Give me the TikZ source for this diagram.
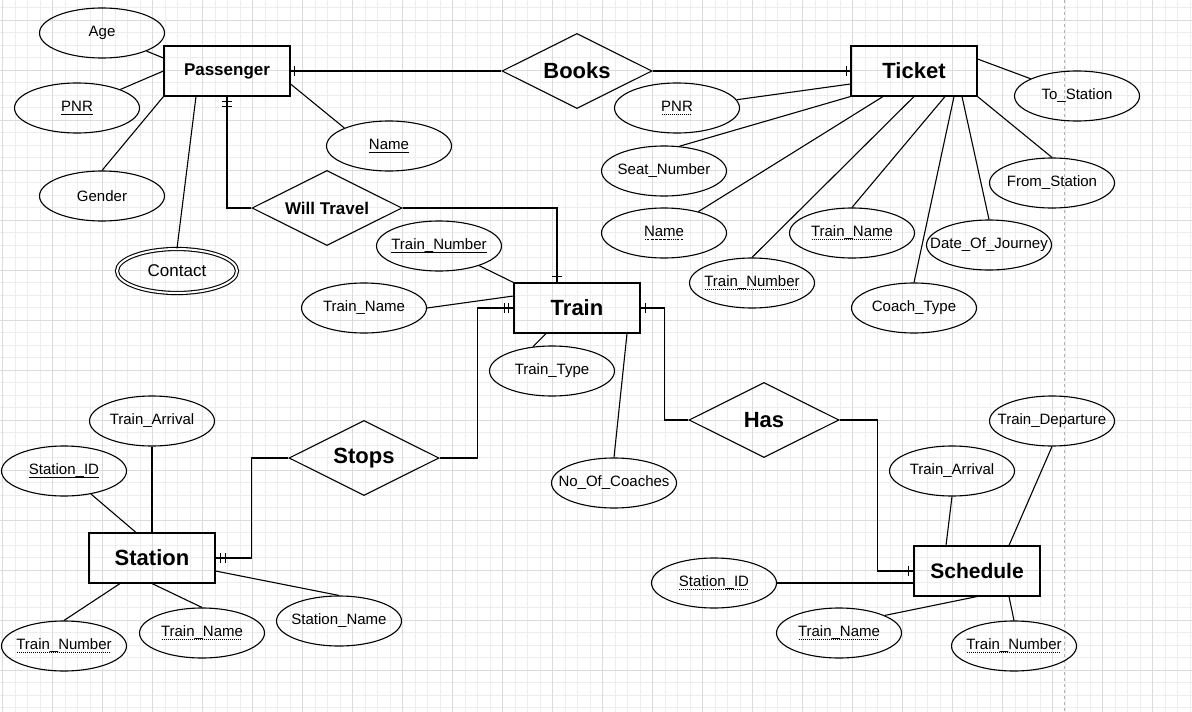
\documentclass[tikz,border=0pt]{standalone}
\usepackage{fontspec}
\setmainfont{Liberation Sans}
\usetikzlibrary{shapes.geometric}
\newcommand\keyul[1]{\setbox0\hbox{#1}\rlap{\lower2.5pt\hbox{\rule{\wd0}{0.8pt}}}\box0}
\newcommand\dotul[1]{\setbox0\hbox{#1}\rlap{\lower2.5pt\hbox to\wd0{\leaders\hbox to 2pt{\hss\rule{1pt}{0.8pt}\hss}\hfill}}\box0}

\begin{document}
\begin{tikzpicture}[x=1pt, y=-1pt, line width=1.1pt,
		entity/.style={draw, rectangle, minimum width=126pt, minimum height=50pt, inner sep=0pt, font=\fontsize{22}{26}\selectfont\bfseries},
		relation/.style={draw, diamond, aspect=2, minimum width=150pt, minimum height=75pt, inner sep=0pt, font=\fontsize{22}{26}\selectfont\bfseries},
		attr/.style={draw, ellipse, minimum width=125pt, minimum height=50pt, inner xsep=-20pt, inner ysep=0pt, font=\fontsize{15}{18}\selectfont},
		minorgrid/.style={line width=0.6pt, draw=black!7},
		majorgrid/.style={line width=0.8pt, draw=black!14}]
		\useasboundingbox (0,0) rectangle (1192,712);
		\fill[white] (0,0) rectangle (1192,712);
		% grid
		\foreach \x in {2.7,15.2,...,1192} \draw[minorgrid] (\x,0) -- (\x,712);
		\foreach \y in {7.5,20,...,712} \draw[minorgrid] (0,\y) -- (1192,\y);
		\foreach \x in {2.7,52.7,...,1192} \draw[majorgrid] (\x,0) -- (\x,712);
		\foreach \y in {20,70,...,712} \draw[majorgrid] (0,\y) -- (1192,\y);
		\draw[black!30, line width=0.8pt, dash pattern=on 3pt off 3pt] (1064.3,0) -- (1064.3,712);

		% entities
		\node[entity, font=\fontsize{17}{20}\selectfont\bfseries] (passenger) at (227,71) {Passenger};
		\node[entity] (ticket) at (914,71) {Ticket};
		\node[entity] (train) at (577,308) {Train};
		\node[entity] (station) at (152,558) {Station};
		\node[entity, font=\fontsize{21}{25}\selectfont\bfseries] (schedule) at (977,571) {Schedule};

		% relationships
		\node[relation] (books) at (577,71) {Books};
		\node[relation, font=\fontsize{17}{20}\selectfont\bfseries] (willtravel) at (327,208) {Will Travel};
		\node[relation] (stops) at (364,458) {Stops};
		\node[relation] (has) at (764,420) {Has};

		% attributes of Passenger
		\node[attr] (p_age) at (102,33) {Age};
		\node[attr] (p_pnr) at (77,108) {\keyul{PNR}};
		\node[attr] (p_gender) at (102,196) {Gender};
		\node[attr, double, double distance=2pt, minimum width=120pt, minimum height=44pt, font=\fontsize{17}{20}\selectfont] (p_contact) at (177,271) {Contact};
		\node[attr] (p_name) at (389,146) {\keyul{Name}};

		% attributes of Ticket
		\node[attr] (t_pnr) at (677,108) {\dotul{PNR}};
		\node[attr] (t_to) at (1077,96) {To\_Station};
		\node[attr] (t_seat) at (664,171) {Seat\_Number};
		\node[attr] (t_from) at (1052,183) {From\_Station};
		\node[attr] (t_name) at (664,233) {\dotul{Name}};
		\node[attr] (t_trainname) at (852,233) {\dotul{Train\_Name}};
		\node[attr] (t_date) at (989,245) {Date\_Of\_Journey};
		\node[attr] (t_trainno) at (752,283) {\dotul{Train\_Number}};
		\node[attr] (t_coach) at (914,308) {Coach\_Type};

		% attributes of Train
		\node[attr] (tr_no) at (439,246) {\keyul{Train\_Number}};
		\node[attr] (tr_name) at (364,308) {Train\_Name};
		\node[attr] (tr_type) at (552,371) {Train\_Type};
		\node[attr] (tr_coaches) at (614,483) {No\_Of\_Coaches};

		% attributes of Station
		\node[attr] (s_arr) at (152,421) {Train\_Arrival};
		\node[attr] (s_id) at (64,471) {\keyul{Station\_ID}};
		\node[attr] (s_no) at (64,646) {\dotul{Train\_Number}};
		\node[attr] (s_name) at (202,633) {\dotul{Train\_Name}};
		\node[attr] (s_sname) at (339,621) {Station\_Name};

		% attributes of Schedule
		\node[attr] (sc_dep) at (1052,421) {Train\_Departure};
		\node[attr] (sc_arr) at (952,471) {Train\_Arrival};
		\node[attr] (sc_id) at (714,583) {\dotul{Station\_ID}};
		\node[attr] (sc_name) at (839,633) {\dotul{Train\_Name}};
		\node[attr] (sc_no) at (1014,646) {\dotul{Train\_Number}};

		% attribute lines
		\draw (p_age) -- ([yshift=13pt]passenger.west);
		\draw (p_pnr) -- (passenger.west);
		\draw (p_gender.north) -- (passenger.south west);
		\draw (p_contact.north) -- ([xshift=-31pt]passenger.south);
		\draw (p_name.158) -- ([yshift=-13pt]passenger.east);

		\draw (t_pnr) -- ([yshift=-13pt]ticket.west);
		\draw (t_to) -- ([yshift=12pt]ticket.east);
		\draw (t_seat.58) -- (ticket.south west);
		\draw (t_from.north) -- (ticket.south east);
		\draw (t_name) -- ([xshift=-31pt]ticket.south);
		\draw (t_trainno.north) -- (ticket.south);
		\draw (t_trainname.north) -- ([xshift=31pt]ticket.south);
		\draw (t_coach.north) -- ([xshift=40pt]ticket.south);
		\draw (t_date.north) -- ([xshift=48pt]ticket.south);

		\draw (tr_no) -- (train.north west);
		\draw (tr_name.east) -- ([yshift=12pt]train.west);
		\draw (tr_type.128) -- ([xshift=-31pt]train.south);
		\draw (tr_coaches.north) -- ([xshift=50pt]train.south);

		\draw (s_arr) -- (station);
		\draw (s_id) -- ([xshift=-16pt]station.north);
		\draw (s_no.north) -- ([xshift=-32pt]station.south);
		\draw (s_name.north) -- (station.south);
		\draw (s_sname.north) -- ([yshift=-13pt]station.east);

		\draw (sc_dep.south) -- ([xshift=32pt]schedule.north);
		\draw (sc_arr.south) -- ([xshift=-31pt]schedule.north);
		\draw (sc_id.east) -- ([yshift=-12pt]schedule.west);
		\draw (sc_name.21) -- (schedule.south);
		\draw (sc_no.north) -- ([xshift=32pt]schedule.south);

		% relationship lines
		\draw (passenger.east) -- (books.west);
		\draw (books.east) -- (ticket.west);
		\draw (passenger.south) |- (willtravel.west);
		\draw (willtravel.east) -| ([xshift=-20pt]train.north);
		\draw (stops.east) -- ++(38,0) |- (train.west);
		\draw (stops.west) -- ++(-37,0) |- (station.east);
		\draw (train.east) -- ++(24,0) |- (has.west);
		\draw (has.east) -- ++(38,0) |- (schedule.west);

		% cardinality bars
		\draw ([xshift=4pt]passenger.east) ++(0,-5) -- ++(0,10);
		\draw ([xshift=-4pt]ticket.west) ++(0,-5) -- ++(0,10);
		\foreach \d in {5,10} \draw ([yshift=-\d pt]passenger.south) ++(-5,0) -- ++(10,0);
		\draw ([xshift=-20pt,yshift=6pt]train.north) ++(-5,0) -- ++(10,0);
		\foreach \d in {5,9} \draw ([xshift=-\d pt]train.west) ++(0,-5) -- ++(0,10);
		\draw ([xshift=5pt]train.east) ++(0,-5) -- ++(0,10);
		\foreach \d in {5,10} \draw ([xshift=\d pt]station.east) ++(0,-5) -- ++(0,10);
		\draw ([xshift=-5pt]schedule.west) ++(0,-5) -- ++(0,10);
	\end{tikzpicture}
\end{document}
